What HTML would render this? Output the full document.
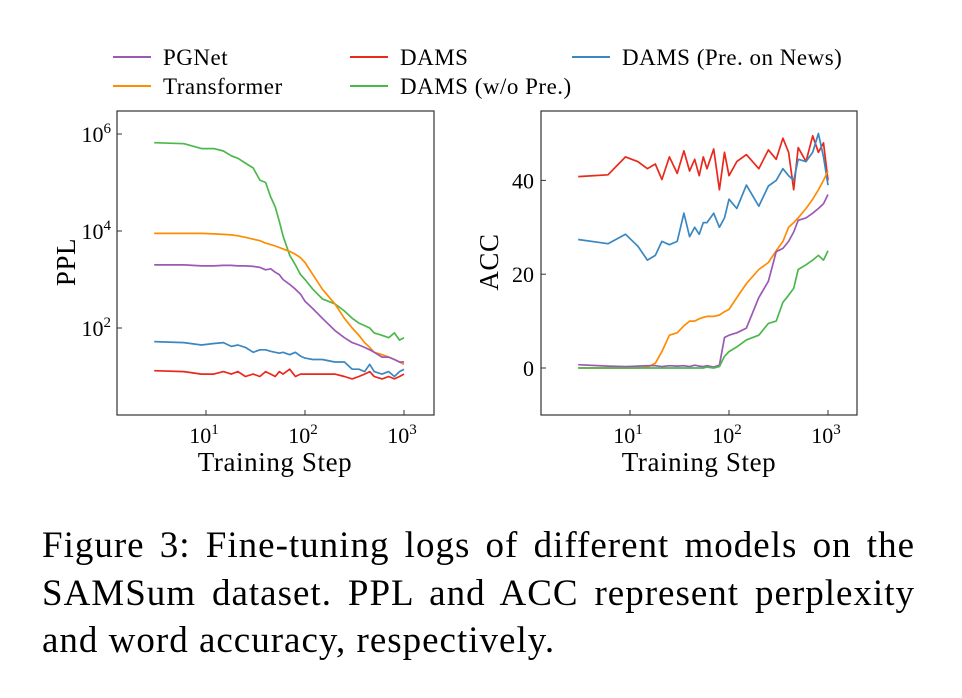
<!DOCTYPE html>
<html><head><meta charset="utf-8"><style>
body{margin:0;background:#fff;width:962px;height:698px;overflow:hidden;font-family:"Liberation Serif",serif}
#cap{position:absolute;left:42px;top:522px;width:873px;font-size:37px;letter-spacing:1px;line-height:47.5px;color:#000}
#cap div{text-align:justify;text-align-last:justify;white-space:nowrap}
#cap div.last{text-align-last:left}
</style></head><body>
<svg id="svg" width="962" height="500" style="position:absolute;left:0;top:0" font-family="Liberation Serif, serif"></svg>
<div id="cap"><div>Figure 3: Fine-tuning logs of different models on the</div><div>SAMSum dataset. PPL and ACC represent perplexity</div><div class="last">and word accuracy, respectively.</div></div>
<script>
const steps=[3,6,9,12,15,18,21,25,30,35,40,45,50,55,60,70,80,90,100,120,150,200,250,300,350,400,450,500,600,700,800,900,1000];
const pplGreen=[5.82,5.8,5.7,5.7,5.65,5.55,5.5,5.4,5.3,5.05,5.0,4.7,4.5,4.2,3.9,3.5,3.3,3.1,3.0,2.8,2.6,2.5,2.35,2.2,2.1,2.05,2.0,1.9,1.85,1.8,1.9,1.75,1.8];
const pplOrange=[3.95,3.95,3.95,3.94,3.93,3.92,3.9,3.87,3.83,3.8,3.75,3.72,3.69,3.66,3.63,3.58,3.52,3.45,3.35,3.1,2.8,2.5,2.2,2.0,1.85,1.7,1.6,1.5,1.45,1.4,1.35,1.3,1.25];
const pplPurple=[3.3,3.3,3.28,3.28,3.29,3.29,3.28,3.28,3.27,3.25,3.2,3.22,3.15,3.1,3.0,2.9,2.8,2.7,2.55,2.4,2.2,1.95,1.8,1.7,1.65,1.6,1.55,1.5,1.4,1.4,1.35,1.3,1.3];
const pplBlue=[1.72,1.7,1.65,1.68,1.7,1.62,1.65,1.6,1.5,1.55,1.55,1.52,1.5,1.48,1.5,1.45,1.5,1.42,1.38,1.35,1.35,1.3,1.3,1.15,1.15,1.1,1.25,1.1,1.05,1.1,1.0,1.1,1.15];
const pplRed=[1.12,1.1,1.05,1.05,1.1,1.05,1.1,1.0,1.05,1.0,1.1,1.05,1.0,1.1,1.05,1.15,1.0,1.05,1.05,1.05,1.05,1.05,1.0,0.95,1.0,1.05,1.1,1.0,0.95,1.0,0.95,1.0,1.05];
const accRed=[40.8,41.2,45,44,42.5,43.5,40.2,45,41.5,46.3,42,44.5,41,45,42.5,46.7,38,46,41,44,45.5,42.5,46.5,44.5,49,46,38,47,44,49.5,46,48,40];
const accBlue=[27.4,26.5,28.5,26,23,24,27,26.3,27,33,28,30,28.5,31,31,33,30,32,36,34,39,34.5,38.8,40,42.5,41,40,44.5,44,46,50,45,39];
const accOrange=[0,0,0,0,0.2,1,3.5,7,7.5,9,10,10,10.5,10.8,11,11,11.3,12,12.5,15,18,21,22.5,25,27,30,31,32,34,36,38,40,42];
const accPurple=[0.7,0.4,0.3,0.4,0.5,0.5,0.3,0.5,0.4,0.5,0.3,0.6,0.4,0.3,0.5,0.2,0.6,6.5,7,7.5,8.5,15,18.5,24.8,25.5,27,29,31.5,32,33,34,35,37];
const accGreen=[0,0,0,0,0,0,0,0,0,0,0,0,0,0,0.2,0,0.3,2.5,3.5,4.5,6,7,9.5,10,14,15.5,17,21,22,23,24,23,25];
const xTicks=[1,2,3];
const pplTicks=[2,4,6];
const accTicks=[0,20,40];
const C={purple:'#9b59b6',orange:'#ff8c00',red:'#e8291c',green:'#4cb84c',blue:'#3a87c2'};
const svg=document.getElementById('svg');const NS='http://www.w3.org/2000/svg';
function mk(t,a,p){const e=document.createElementNS(NS,t);for(const k in a)e.setAttribute(k,a[k]);(p||svg).appendChild(e);return e;}
const lx=v=>206+(Math.log10(v)-1)*99;
const ly=v=>231-(v-4)*48.5;
const rx=v=>630+(Math.log10(v)-1)*99;
const ry=v=>368-v*4.69;
function series(fx,fy,vals,col,name){const d=steps.map((s,i)=>(i?'L':'M')+fx(s).toFixed(1)+','+fy(vals[i]).toFixed(1)).join('');
const p=mk('path',{d:d,fill:'none',stroke:col,'stroke-width':1.7,'stroke-linejoin':'round'});

}
series(lx,ly,pplGreen,C.green,'ppl-line-dams-wo-pre');
series(lx,ly,pplOrange,C.orange,'ppl-line-transformer');
series(lx,ly,pplPurple,C.purple,'ppl-line-pgnet');
series(lx,ly,pplBlue,C.blue,'ppl-line-dams-pre-news');
series(lx,ly,pplRed,C.red,'ppl-line-dams');
series(rx,ry,accRed,C.red,'acc-line-dams');
series(rx,ry,accBlue,C.blue,'acc-line-dams-pre-news');
series(rx,ry,accOrange,C.orange,'acc-line-transformer');
series(rx,ry,accPurple,C.purple,'acc-line-pgnet');
series(rx,ry,accGreen,C.green,'acc-line-dams-wo-pre');
let f=mk('rect',{x:117,y:111,width:317,height:304,fill:'none',stroke:'#333','stroke-width':1.2});
f=mk('rect',{x:541,y:111,width:316,height:304,fill:'none',stroke:'#333','stroke-width':1.2});
function sup(x,y,base,exp,name,anchor){const t=mk('text',{x:x,y:y,'font-size':22,'text-anchor':anchor||'middle'});
mk('tspan',{},t).textContent=base;const s=mk('tspan',{dy:-9,'font-size':15},t);s.textContent=exp;}
xTicks.forEach(e=>{
 let t=mk('line',{x1:lx(10**e),x2:lx(10**e),y1:415,y2:410,stroke:'#333'});
 sup(lx(10**e)-2,443,'10',e,'ppl-x-tick-label');
 t=mk('line',{x1:rx(10**e),x2:rx(10**e),y1:415,y2:410,stroke:'#333'});
 sup(rx(10**e)-2,443,'10',e,'acc-x-tick-label');});
pplTicks.forEach(e=>{let t=mk('line',{x1:117,x2:122,y1:ly(e),y2:ly(e),stroke:'#333'});
 sup(111,ly(e)+8,'10',e,'ppl-y-tick-label','end');});
accTicks.forEach(v=>{let t=mk('line',{x1:541,x2:546,y1:ry(v),y2:ry(v),stroke:'#333'});
 t=mk('text',{x:534,y:ry(v)+8,'font-size':22,'text-anchor':'end'});t.textContent=v;});
function txt(x,y,s,str,name,rot,anchor){const t=mk('text',{x:x,y:y,'font-size':s,'text-anchor':anchor||'middle','letter-spacing':0.6});if(rot)t.setAttribute('transform','rotate(-90 '+x+' '+y+')');t.textContent=str;}
txt(275,471,27,'Training Step','ppl-x-axis-title');
txt(699,471,27,'Training Step','acc-x-axis-title');
txt(75,262,27,'PPL','ppl-y-axis-title',1);
txt(498,262,27,'ACC','acc-y-axis-title',1);
const leg=[['PGNet',C.purple,113,57],['Transformer',C.orange,113,86],['DAMS',C.red,350,57],['DAMS (w/o Pre.)',C.green,350,86],['DAMS (Pre. on News)',C.blue,572,57]];
leg.forEach(l=>{const g=mk('g',{});
 mk('line',{x1:l[2],x2:l[2]+38,y1:l[3],y2:l[3],stroke:l[1],'stroke-width':2},g);
 const t=mk('text',{x:l[2]+50,y:l[3]+8,'font-size':23,'letter-spacing':0.5},g);t.textContent=l[0];});
</script>
</body></html>
